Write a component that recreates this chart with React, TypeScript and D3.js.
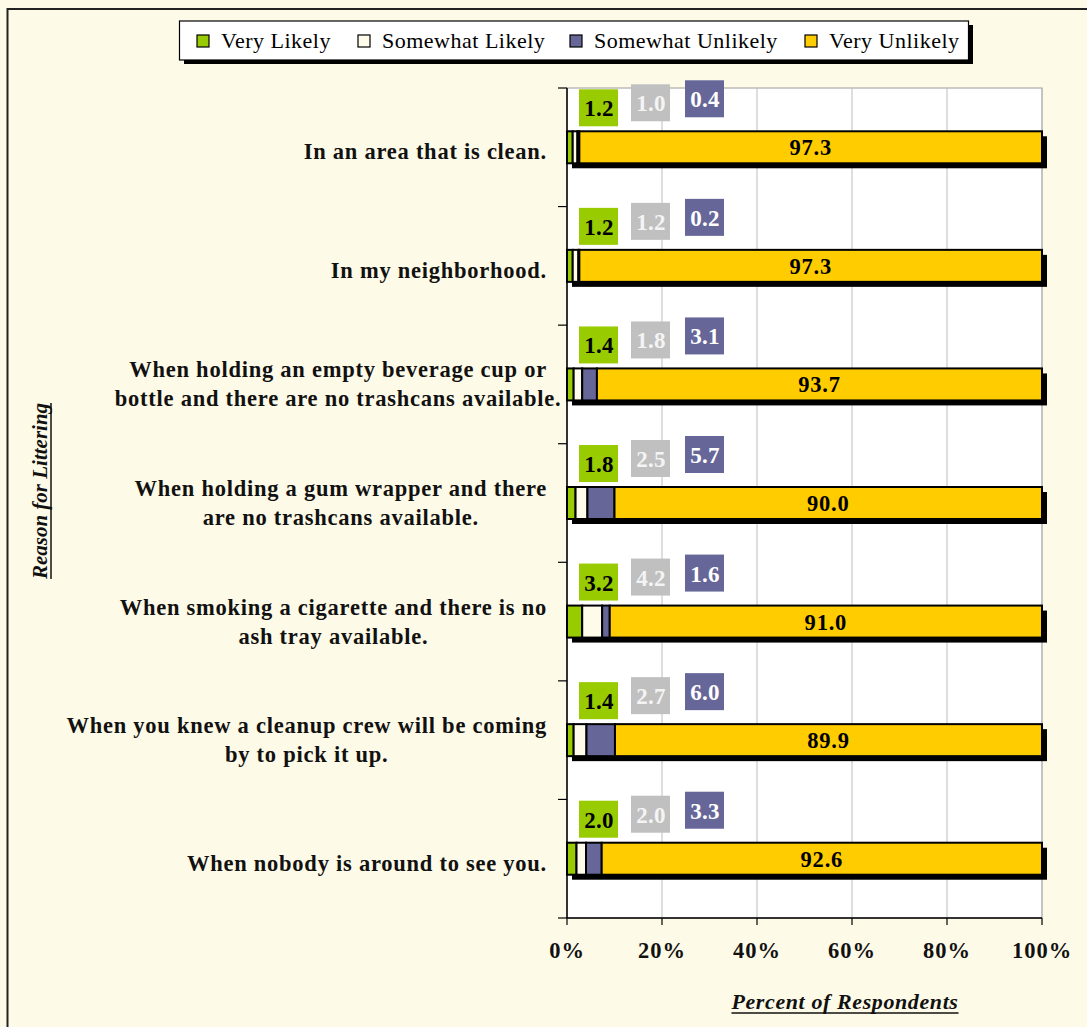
import React, { useEffect, useRef } from "react";
import * as d3 from "d3";

const categories: string[][] = [
  ["In an area that is clean."],
  ["In my neighborhood."],
  ["When holding an empty beverage cup or", "bottle and there are no trashcans available."],
  ["When holding a gum wrapper and there", "are no trashcans available."],
  ["When smoking a cigarette and there is no", "ash tray available."],
  ["When you knew a cleanup crew will be coming", "by to pick it up."],
  ["When nobody is around to see you."],
];
const seriesNames = ["Very Likely", "Somewhat Likely", "Somewhat Unlikely", "Very Unlikely"];
const veryLikely = [1.2, 1.2, 1.4, 1.8, 3.2, 1.4, 2.0];
const somewhatLikely = [1.0, 1.2, 1.8, 2.5, 4.2, 2.7, 2.0];
const somewhatUnlikely = [0.4, 0.2, 3.1, 5.7, 1.6, 6.0, 3.3];
const veryUnlikely = [97.3, 97.3, 93.7, 90.0, 91.0, 89.9, 92.6];
const xTicks = [0, 20, 40, 60, 80, 100];

const colors = ["#99CC00", "#FFFBEA", "#666699", "#FFCC00"];
const BG = "#FEFAE8";
const FONT = "'Liberation Serif', 'Times New Roman', serif";

export default function App() {
  const ref = useRef<SVGSVGElement | null>(null);
  useEffect(() => {
    const svg = d3.select(ref.current);
    svg.selectAll("*").remove();
    const W = 1087, H = 1027;
    const m = { left: 567, right: 1042, top: 88, bottom: 918 };
    svg.append("rect").attr("x", 0).attr("y", 0).attr("width", W).attr("height", H).attr("fill", BG);
    svg.append("rect").attr("x", 7.5).attr("y", 9).attr("width", W + 20).attr("height", H + 20)
      .attr("fill", BG).attr("stroke", "#222").attr("stroke-width", 2);

    const x = d3.scaleLinear().domain([0, 100]).range([m.left, m.right]);
    const y = d3.scaleBand<number>().domain(d3.range(categories.length)).range([m.top, m.bottom]);

    // plot area
    svg.append("rect").attr("x", m.left).attr("y", m.top).attr("width", m.right - m.left)
      .attr("height", m.bottom - m.top).attr("fill", "#fff").attr("stroke", "#999").attr("stroke-width", 1);
    svg.append("g").selectAll("line").data(xTicks.slice(1)).join("line")
      .attr("x1", d => x(d)).attr("x2", d => x(d)).attr("y1", m.top).attr("y2", m.bottom)
      .attr("stroke", "#BDBDBD").attr("stroke-width", 1);

    const rows = categories.map((c, i) => {
      const vals = [veryLikely[i], somewhatLikely[i], somewhatUnlikely[i], veryUnlikely[i]];
      const sum = d3.sum(vals);
      let acc = 0;
      const segs = vals.map((v, k) => {
        const s = { k, v, x0: (acc / sum) * 100, x1: ((acc + v) / sum) * 100 };
        acc += v;
        return s;
      });
      return { i, vals, segs };
    });

    const barH = 32;
    const g = svg.append("g");
    rows.forEach(r => {
      const cy = y(r.i)! + y.bandwidth() / 2;
      const top = cy - barH / 2;
      // shadow
      g.append("rect").attr("x", x(0) + 5).attr("y", top + 5).attr("width", x(100) - x(0))
        .attr("height", barH).attr("fill", "#000");
      r.segs.forEach(s => {
        g.append("rect").attr("x", x(s.x0)).attr("y", top).attr("width", x(s.x1) - x(s.x0))
          .attr("height", barH).attr("fill", colors[s.k]).attr("stroke", "#000").attr("stroke-width", 2);
      });
      const last = r.segs[3];
      g.append("text").attr("x", (x(last.x0) + x(last.x1)) / 2).attr("y", cy + 8)
        .attr("text-anchor", "middle").attr("font-family", FONT).attr("font-weight", "bold")
        .attr("font-size", 22.5).attr("letter-spacing", 0.8).attr("fill", "#000").text(last.v.toFixed(1));

      // floating label boxes
      const boxes = [
        { k: 0, dx: 12, dy: -58, fill: "#99CC00", tc: "#000" },
        { k: 1, dx: 64, dy: -63, fill: "#C0C0C0", tc: "#F4F4F4" },
        { k: 2, dx: 118, dy: -67, fill: "#666699", tc: "#fff" },
      ];
      boxes.forEach(b => {
        const bx = x(0) + b.dx, by = cy + b.dy;
        g.append("rect").attr("x", bx).attr("y", by).attr("width", 39).attr("height", 37).attr("fill", b.fill);
        g.append("text").attr("x", bx + 20).attr("y", by + 27).attr("text-anchor", "middle")
          .attr("font-family", FONT).attr("font-weight", "bold").attr("font-size", 23)
          .attr("letter-spacing", 0.3).attr("fill", b.tc).text(r.vals[b.k].toFixed(1));
      });

      // category labels
      const lab = svg.append("g");
      const lines = categories[r.i];
      const style = (t: d3.Selection<SVGTextElement, unknown, null, undefined>) =>
        t.attr("font-family", FONT).attr("font-weight", "bold").attr("font-size", 22.5)
          .attr("letter-spacing", 0.75).attr("fill", "#111");
      if (lines.length === 1) {
        style(lab.append("text").attr("x", 547).attr("y", cy + 12).attr("text-anchor", "end")).text(lines[0]);
      } else {
        const t1 = style(lab.append("text").attr("x", 547).attr("y", cy - 7).attr("text-anchor", "end")).text(lines[0]);
        const w1 = (t1.node() as SVGTextElement).getComputedTextLength();
        style(lab.append("text").attr("x", 547 - w1 / 2).attr("y", cy + 22).attr("text-anchor", "middle")).text(lines[1]);
      }
    });

    // axes
    svg.append("line").attr("x1", m.left).attr("x2", m.left).attr("y1", m.top).attr("y2", m.bottom)
      .attr("stroke", "#000").attr("stroke-width", 1.5);
    svg.append("line").attr("x1", m.left).attr("x2", m.right).attr("y1", m.bottom).attr("y2", m.bottom)
      .attr("stroke", "#000").attr("stroke-width", 1.5);
    const bounds = d3.range(categories.length + 1).map(i => m.top + i * y.step());
    svg.append("g").selectAll("line").data(bounds).join("line")
      .attr("x1", m.left - 9).attr("x2", m.left).attr("y1", d => d).attr("y2", d => d)
      .attr("stroke", "#000").attr("stroke-width", 1.2);
    svg.append("g").selectAll("line").data(xTicks).join("line")
      .attr("x1", d => x(d)).attr("x2", d => x(d)).attr("y1", m.bottom).attr("y2", m.bottom + 7)
      .attr("stroke", "#000").attr("stroke-width", 1.2);
    svg.append("g").selectAll("text").data(xTicks).join("text")
      .attr("x", d => x(d)).attr("y", 958).attr("text-anchor", "middle")
      .attr("font-family", FONT).attr("font-weight", "bold").attr("font-size", 22.5)
      .attr("letter-spacing", 1.0).attr("fill", "#111").text(d => d + "%");

    // axis titles (manual underline)
    const xt = svg.append("text").attr("x", 845).attr("y", 1009).attr("text-anchor", "middle")
      .attr("font-family", FONT).attr("font-weight", "bold").attr("font-style", "italic")
      .attr("font-size", 22).attr("letter-spacing", 0.6)
      .attr("fill", "#111").text("Percent of Respondents");
    const xw = (xt.node() as SVGTextElement).getComputedTextLength();
    svg.append("line").attr("x1", 845 - xw / 2).attr("x2", 845 + xw / 2).attr("y1", 1013).attr("y2", 1013)
      .attr("stroke", "#111").attr("stroke-width", 1.5);
    const yg = svg.append("g").attr("transform", "translate(47,491) rotate(-90)");
    const yt = yg.append("text").attr("x", 0).attr("y", 0).attr("text-anchor", "middle")
      .attr("font-family", FONT).attr("font-weight", "bold").attr("font-style", "italic")
      .attr("font-size", 21).attr("fill", "#111").text("Reason for Littering");
    const yw = (yt.node() as SVGTextElement).getComputedTextLength();
    yg.append("line").attr("x1", -yw / 2).attr("x2", yw / 2).attr("y1", 4).attr("y2", 4)
      .attr("stroke", "#111").attr("stroke-width", 1.5);

    // legend
    const lg = svg.append("g");
    lg.append("rect").attr("x", 184).attr("y", 25).attr("width", 789).attr("height", 39).attr("fill", "#000");
    lg.append("rect").attr("x", 179.5).attr("y", 21).attr("width", 789).attr("height", 39)
      .attr("fill", "#fff").attr("stroke", "#000").attr("stroke-width", 1.2);
    const lx = [197, 358, 570, 805];
    seriesNames.forEach((n, k) => {
      lg.append("rect").attr("x", lx[k]).attr("y", 35).attr("width", 12).attr("height", 12)
        .attr("fill", colors[k]).attr("stroke", "#000").attr("stroke-width", 1.2);
      lg.append("text").attr("x", lx[k] + 24).attr("y", 48).attr("font-family", FONT)
        .attr("font-size", 22).attr("letter-spacing", 0.5).attr("fill", "#000").text(n);
    });
  }, []);
  return (
    <svg ref={ref} width={1087} height={1027}
      style={{ position: "absolute", left: 0, top: 0, display: "block" }} />
  );
}
